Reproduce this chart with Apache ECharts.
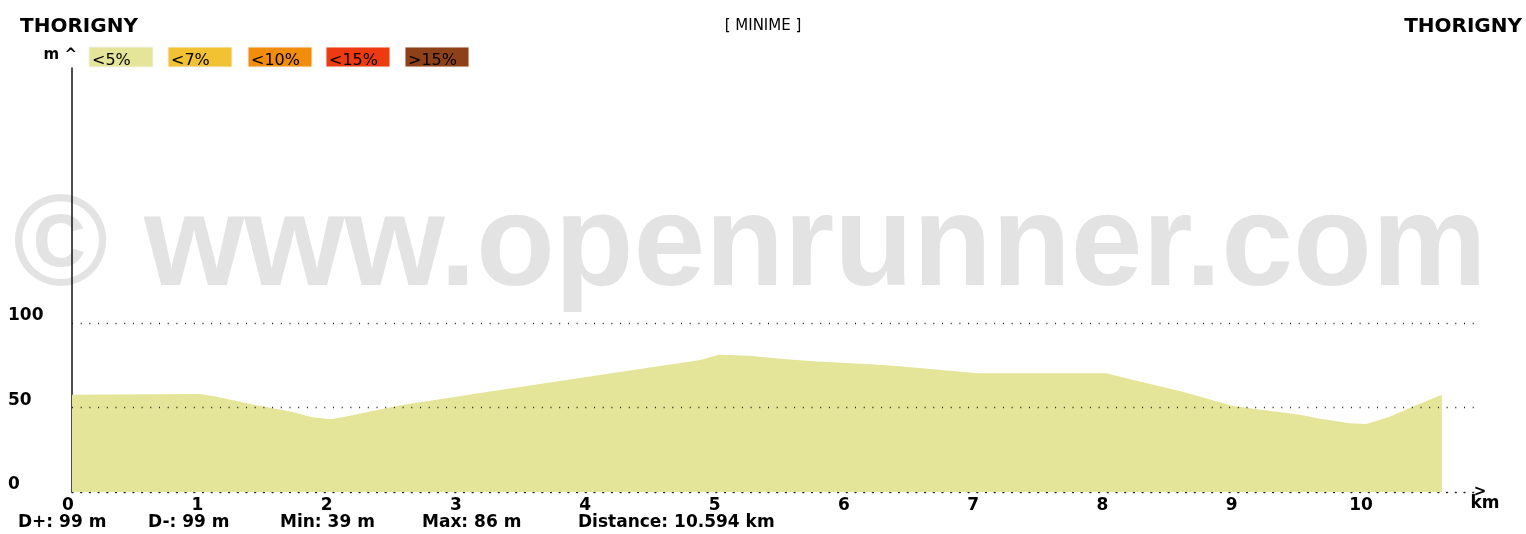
<!DOCTYPE html>
<html>
<head>
<meta charset="utf-8">
<script src="https://cdn.jsdelivr.net/npm/echarts@6/dist/echarts.min.js"></script>
<style>
  html, body { margin: 0; padding: 0; background: #ffffff; }
  #chart { width: 1526px; height: 534px; }
</style>
</head>
<body>
<div id="chart"></div>
<script>
// ---- data ----
const distanceKm = [0, 0.99, 1.11, 1.42, 1.69, 1.86, 2.0, 2.11, 2.54, 3.31, 4.08, 4.86, 5.0, 5.24, 5.5, 5.76, 6.15, 6.4, 6.66, 7.0, 8.0, 8.2, 8.59, 8.98, 9.24, 9.5, 9.63, 9.88, 10.01, 10.19, 10.4, 10.594];
const elevationM = [57.5, 58, 56.5, 51.5, 47.6, 44.2, 43.0, 44.6, 51.3, 60.4, 69.3, 78.2, 81.2, 80.7, 78.8, 77.2, 75.8, 74.5, 72.7, 70.3, 70.3, 66.4, 59.4, 50.9, 48.3, 45.8, 43.7, 40.7, 40.3, 44.6, 51.5, 57.5];
const yTickLabels = [0, 50, 100];
const gridLines = [50, 100];
const legendLabels = ['<5%', '<7%', '<10%', '<15%', '>15%'];
const legendColors = ['#e5e599', '#f2c232', '#f28c0c', '#ee3a10', '#8e4118'];
const statsTexts = ['D+: 99 m', 'D-: 99 m', 'Min: 39 m', 'Max: 86 m', 'Distance: 10.594 km'];
const startName = 'THORIGNY';
const endName = 'THORIGNY';
const routeName = '[ MINIME ]';
const watermark = '\u00a9 www.openrunner.com';

// ---- layout helpers (presentation only) ----
const FONT = 'DejaVu Sans';
const legendX = [89, 168, 248, 326, 405];
const statsX = [18, 148, 280, 422, 578];

const graphics = [];
graphics.push({
  type: 'text', z: -10, silent: true,
  style: { text: watermark, x: 13, y: 249, fill: '#e3e3e3',
           fontFamily: 'Liberation Sans', fontWeight: 'bold', fontSize: 129,
           verticalAlign: 'middle' }
});
legendLabels.forEach((lab, i) => {
  graphics.push({
    type: 'rect', shape: { x: legendX[i], y: 47, width: 64, height: 20 },
    style: { fill: legendColors[i], stroke: '#f4f4f0', lineWidth: 1 }
  });
  graphics.push({
    type: 'text',
    style: { text: lab, x: legendX[i] + 3, y: 61, fill: '#000', verticalAlign: 'middle',
             fontFamily: FONT, fontSize: 16 }
  });
});
statsTexts.forEach((t, i) => {
  graphics.push({
    type: 'text',
    style: { text: t, x: statsX[i], y: 523, fill: '#000', verticalAlign: 'middle',
             fontFamily: FONT, fontWeight: 'bold', fontSize: 17 }
  });
});

const chart = echarts.init(document.getElementById('chart'), null, { renderer: 'canvas' });
chart.setOption({
  backgroundColor: '#ffffff',
  animation: false,
  textStyle: { fontFamily: FONT },
  title: [
    { text: startName, left: 20, top: 17, padding: 0,
      textStyle: { fontFamily: FONT, fontWeight: 'bold', fontSize: 20, color: '#000' } },
    { text: routeName, left: 'center', top: 19, padding: [0, 0, 0, 16],
      textStyle: { fontFamily: FONT, fontWeight: 'normal', fontSize: 15, color: '#000' } },
    { text: endName, right: 4, top: 17, padding: 0,
      textStyle: { fontFamily: FONT, fontWeight: 'bold', fontSize: 20, color: '#000' } }
  ],
  graphic: graphics,
  grid: { left: 72, right: 51, top: 68, bottom: 42, containLabel: false, outerBoundsMode: 'none' },
  xAxis: {
    type: 'value', min: 0, max: 10.85, interval: 1,
    name: '{a|>}\n{b|km}',
    nameLocation: 'end', nameGap: 10,
    nameTextStyle: {
      align: 'center', verticalAlign: 'middle', padding: [16, 0, 0, 0],
      rich: {
        a: { fontFamily: FONT, fontWeight: 'bold', fontSize: 15, lineHeight: 8, color: '#000', padding: [0, 10, 0, 0] },
        b: { fontFamily: FONT, fontWeight: 'bold', fontSize: 17, lineHeight: 16, color: '#000' }
      }
    },
    axisLine: { show: true, lineStyle: { color: '#222', width: 1.3, type: [1, 7.7] } },
    axisTick: { show: false },
    splitLine: { show: false },
    axisLabel: {
      showMaxLabel: false, margin: 5, padding: [0, 8, 0, 0],
      color: '#000', fontFamily: FONT, fontWeight: 'bold', fontSize: 17,
      formatter: v => String(v)
    }
  },
  yAxis: {
    type: 'value', min: 0, max: 251, interval: 50,
    name: 'm ^', nameLocation: 'end', nameGap: 5,
    nameTextStyle: { align: 'right', verticalAlign: 'bottom', padding: [0, -5, 0, 0],
                     fontFamily: FONT, fontWeight: 'bold', fontSize: 15, color: '#000' },
    axisLine: { show: true, lineStyle: { color: '#111', width: 1.5 } },
    axisTick: { show: false },
    splitLine: { show: false },
    axisLabel: {
      align: 'left', margin: 64, verticalAlign: 'bottom', lineHeight: 14,
      color: '#000', fontFamily: FONT, fontWeight: 'bold', fontSize: 17,
      formatter: v => (yTickLabels.indexOf(v) >= 0 ? String(v) : '')
    }
  },
  series: [
    {
      name: 'grid', type: 'line', data: [], z: 1, silent: true,
      markLine: {
        silent: true, symbol: ['none', 'none'], label: { show: false },
        lineStyle: { color: '#222', width: 1.3, type: [1, 7.7] },
        data: gridLines.map(v => ({ yAxis: v }))
      }
    },
    {
      name: '<5%', type: 'line', z: 3,
      data: distanceKm.map((d, i) => [d, elevationM[i]]),
      showSymbol: false, symbol: 'none',
      lineStyle: { width: 0 },
      areaStyle: { color: legendColors[0], opacity: 1 }
    }
  ]
});
</script>
</body>
</html>
